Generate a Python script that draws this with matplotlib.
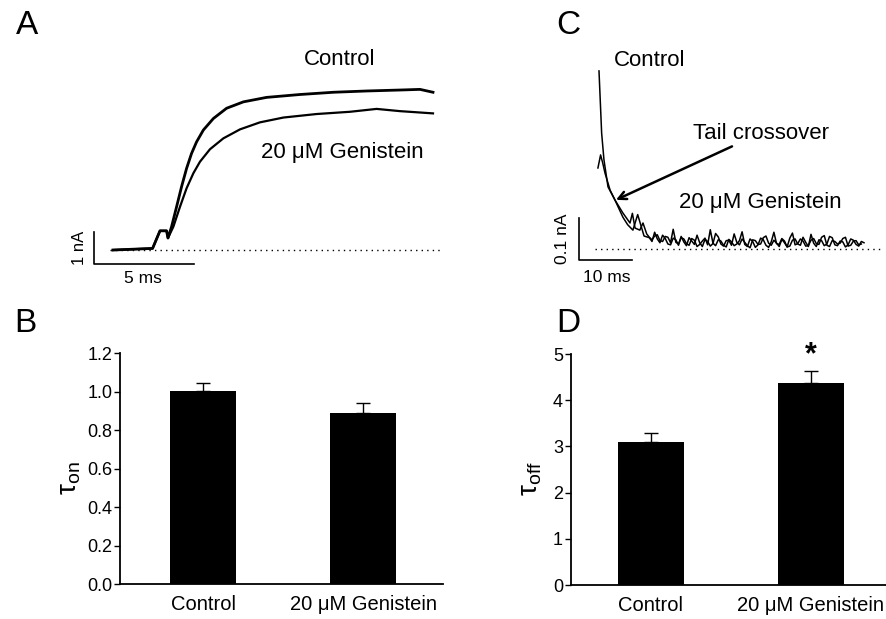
import matplotlib
matplotlib.use("Agg")
import matplotlib.pyplot as plt
import numpy as np

plt.rcParams['font.family'] = ['Liberation Sans', 'DejaVu Sans']
plt.rcParams['mathtext.fontset'] = 'custom'
plt.rcParams['mathtext.rm'] = 'Liberation Sans'
plt.rcParams['mathtext.it'] = 'Liberation Sans'

# ---- panel A: activation traces (ms, nA) ----
a_t_ctrl = [0, 1.98, 2.35, 2.68, 2.75, 2.93, 3.18, 3.43, 3.68, 3.93, 4.18, 4.52,
            5.02, 5.68, 6.52, 7.68, 9.35, 11.02, 12.68, 14.35, 15.35, 16.0]
a_i_ctrl = [0, 0.05, 0.6, 0.6, 0.375, 0.73, 1.35, 1.98, 2.55, 3.02, 3.38, 3.75,
            4.11, 4.43, 4.63, 4.77, 4.86, 4.93, 4.97, 5.0, 5.02, 4.93]
a_t_gen = [0, 1.98, 2.35, 2.68, 2.75, 3.02, 3.35, 3.68, 4.02, 4.35, 4.85, 5.52,
           6.35, 7.35, 8.52, 10.18, 11.85, 13.18, 14.35, 16.0]
a_i_gen = [0, 0.05, 0.6, 0.6, 0.375, 0.73, 1.35, 1.93, 2.40, 2.76, 3.15, 3.49,
           3.77, 3.99, 4.14, 4.25, 4.32, 4.41, 4.34, 4.27]

# ---- panel C: tail currents (ms, nA) ----
c_t_ctrl = [0, 0.5, 0.94, 1.7, 3.0, 4.5, 5.85, 6.3, 6.8, 7.7, 8.3,
            9, 9.5, 10, 10.5, 11, 11.5, 12, 12.5, 13, 13.5, 14, 14.5, 15, 15.5,
            16, 16.5, 17, 17.5, 18, 18.5, 19, 19.5, 20, 20.5, 21, 21.5, 22, 22.5,
            23, 23.5, 24, 24.5, 25, 25.5, 26, 26.5, 27, 27.5, 28, 28.5, 29, 29.5,
            30, 30.5, 31, 31.5, 32, 32.5, 33, 33.5, 34, 34.5, 35, 35.5, 36, 36.5,
            37, 37.5, 38, 38.5, 39, 39.5, 40, 40.5, 41, 41.5, 42, 42.5, 43, 43.5,
            44, 44.5, 45, 45.5, 46, 46.5, 47, 47.5, 48, 48.5, 49, 49.5, 50]
c_i_ctrl = [0.424, 0.276, 0.212, 0.148, 0.117, 0.086, 0.062, 0.085, 0.050, 0.045, 0.062,
            0.036, 0.028, 0.022, 0.031, 0.034, 0.020, 0.018, 0.030, 0.028, 0.015,
            0.047, 0.016, 0.012, 0.027, 0.024, 0.013, 0.009, 0.025, 0.021, 0.006,
            0.011, 0.019, 0.026, 0.010, 0.046, 0.014, 0.008, 0.022, 0.019, 0.009,
            0.005, 0.023, 0.017, 0.008, 0.012, 0.020, 0.041, 0.011, 0.006, 0.024,
            0.018, 0.004, 0.010, 0.026, 0.022, 0.009, 0.004, 0.017, 0.040, 0.013,
            0.011, 0.025, 0.019, 0.005, 0.007, 0.021, 0.024, 0.012, 0.009, 0.028,
            0.016, 0.006, 0.035, 0.014, 0.006, 0.022, 0.020, 0.008, 0.012, 0.030,
            0.027, 0.010, 0.008, 0.019, 0.017, 0.005, 0.010, 0.024, 0.021, 0.011,
            0.007, 0.018, 0.015]
c_t_gen = [-0.2, 0.3, 0.7, 1.13, 2.1, 3.0, 4.5, 5.4, 6.4, 7.3, 8.5,
           9.5, 10, 10.5, 11, 11.5, 12, 12.5, 13, 13.5, 14, 14.5, 15, 15.5, 16,
           16.5, 17, 17.5, 18, 18.5, 19, 19.5, 20, 20.5, 21, 21.5, 22, 22.5, 23,
           23.5, 24, 24.5, 25, 25.5, 26, 26.5, 27, 27.5, 28, 28.5, 29, 29.5, 30,
           30.5, 31, 31.5, 32, 32.5, 33, 33.5, 34, 34.5, 35, 35.5, 36, 36.5, 37,
           37.5, 38, 38.5, 39, 39.5, 40, 40.5, 41, 41.5, 42, 42.5, 43, 43.5, 44,
           44.5, 45, 45.5, 46, 46.5, 47, 47.5, 48, 48.5, 49, 49.5]
c_i_gen = [0.193, 0.224, 0.205, 0.181, 0.140, 0.117, 0.076, 0.058, 0.045, 0.082, 0.031,
           0.027, 0.018, 0.040, 0.024, 0.015, 0.033, 0.025, 0.012, 0.010, 0.026,
           0.022, 0.009, 0.030, 0.017, 0.008, 0.027, 0.019, 0.011, 0.033, 0.015,
           0.006, 0.023, 0.018, 0.007, 0.013, 0.037, 0.029, 0.012, 0.007, 0.020,
           0.021, 0.009, 0.036, 0.016, 0.010, 0.024, 0.016, 0.008, 0.003, 0.022,
           0.020, 0.011, 0.012, 0.027, 0.031, 0.014, 0.009, 0.021, 0.014, 0.006,
           0.023, 0.015, 0.005, 0.026, 0.038, 0.010, 0.013, 0.024, 0.019, 0.007,
           0.008, 0.021, 0.025, 0.013, 0.011, 0.028, 0.032, 0.009, 0.006, 0.020,
           0.018, 0.012, 0.014, 0.025, 0.028, 0.007, 0.009, 0.019, 0.020, 0.010,
           0.012]

# ---- panels B and D: bar summaries ----
groups = ['Control', '20 \u03bcM Genistein']
tau_on = [1.005, 0.89]
tau_on_err = [0.04, 0.05]
tau_off = [3.10, 4.38]
tau_off_err = [0.20, 0.26]

fig = plt.figure(figsize=(8.87, 6.19), dpi=100)

# panel A
axA = fig.add_axes([0.0676, 0.5153, 0.451, 0.4362])
axA.set_xlim(-2.65, 17.35)
axA.set_ylim(-1.5625, 6.875)
axA.axis('off')
axA.plot([-0.15, 16.5], [0, 0], ls=(0, (1, 3)), color='k', lw=1)
axA.plot(a_t_gen, a_i_gen, color='k', lw=1.6)
axA.plot(a_t_ctrl, a_i_ctrl, color='k', lw=2.0)
axA.plot([-0.95, -0.95, 4.05], [0.5625, -0.4375, -0.4375], color='k', lw=1.2)
axA.text(-1.65, 0.06, '1 nA', rotation=90, ha='center', va='center', fontsize=12)
axA.text(1.5, -0.9, '5 ms', ha='center', va='center', fontsize=12.5)
axA.text(11.35, 5.94, 'Control', ha='center', va='center', fontsize=16)
axA.text(11.45, 3.06, '20 \u03bcM Genistein', ha='center', va='center', fontsize=16)

# panel C
axC = fig.add_axes([0.6088, 0.5153, 0.3912, 0.4362])
axC.set_xlim(-11.13, 54.34)
axC.set_ylim(-0.1214, 0.5214)
axC.axis('off')
axC.plot([-0.75, 53.4], [0, 0], ls=(0, (1, 3)), color='k', lw=1)
axC.plot(c_t_gen, c_i_gen, color='k', lw=1.1)
axC.plot(c_t_ctrl, c_i_ctrl, color='k', lw=1.1)
axC.plot([-3.77, -3.77, 6.23], [0.0738, -0.0262, -0.0262], color='k', lw=1.2)
axC.text(-6.8, 0.024, '0.1 nA', rotation=90, ha='center', va='center', fontsize=12.5)
axC.text(1.5, -0.067, '10 ms', ha='center', va='center', fontsize=12.5)
axC.text(9.6, 0.45, 'Control', ha='center', va='center', fontsize=16)
axC.text(30.4, 0.11, '20 \u03bcM Genistein', ha='center', va='center', fontsize=16)
axC.annotate('Tail crossover', xy=(3.2, 0.117), xytext=(17.7, 0.276),
             ha='left', va='center', fontsize=16,
             arrowprops=dict(arrowstyle='->', lw=1.8, color='k',
                             shrinkA=0, shrinkB=0, mutation_scale=14))


def bar_panel(rect, vals, errs, ylim, ticks, fmt, ylabel, label_x):
    ax = fig.add_axes(rect)
    x = np.arange(len(vals))
    ax.bar(x, vals, width=0.41, color='k')
    ax.errorbar(x, vals, yerr=[[0, 0], errs], fmt='none', ecolor='k',
                elinewidth=1, capsize=5, capthick=1)
    ax.set_xlim(-0.52, 1.5)
    ax.set_ylim(*ylim)
    ax.set_yticks(ticks)
    ax.set_yticklabels([fmt % t for t in ticks])
    ax.set_xticks(x)
    ax.set_xticklabels(groups)
    for s in ['top', 'right']:
        ax.spines[s].set_visible(False)
    for s in ['left', 'bottom']:
        ax.spines[s].set_linewidth(1.3)
    ax.tick_params(axis='y', length=4, width=1, pad=1.5, labelsize=13)
    ax.tick_params(axis='x', length=0, pad=8, labelsize=14.5)
    ax.set_ylabel(ylabel, fontsize=20)
    ax.yaxis.set_label_coords(label_x, 0.46)
    return ax


axB = bar_panel([0.1353, 0.0565, 0.3641, 0.3732], tau_on, tau_on_err, (0, 1.2),
                [0, 0.2, 0.4, 0.6, 0.8, 1.0, 1.2], '%.1f',
                r'$\mathregular{\tau_{on}}$', -0.115)
axD = bar_panel([0.6434, 0.0549, 0.3555, 0.3732], tau_off, tau_off_err, (0, 5),
                [0, 1, 2, 3, 4, 5], '%d', r'$\mathregular{\tau_{off}}$', -0.085)
axD.set_xlim(-0.5, 1.47)
axD.text(1, 4.98, '*', ha='center', va='center', fontsize=22, fontweight='bold')

for lab, (px, py) in zip('ABCD', [(27, 25), (25, 323), (568, 25), (568, 323)]):
    fig.text(px / 887, 1 - py / 619, lab, ha='center', va='center', fontsize=24)

fig.savefig('out.png', dpi=100)
